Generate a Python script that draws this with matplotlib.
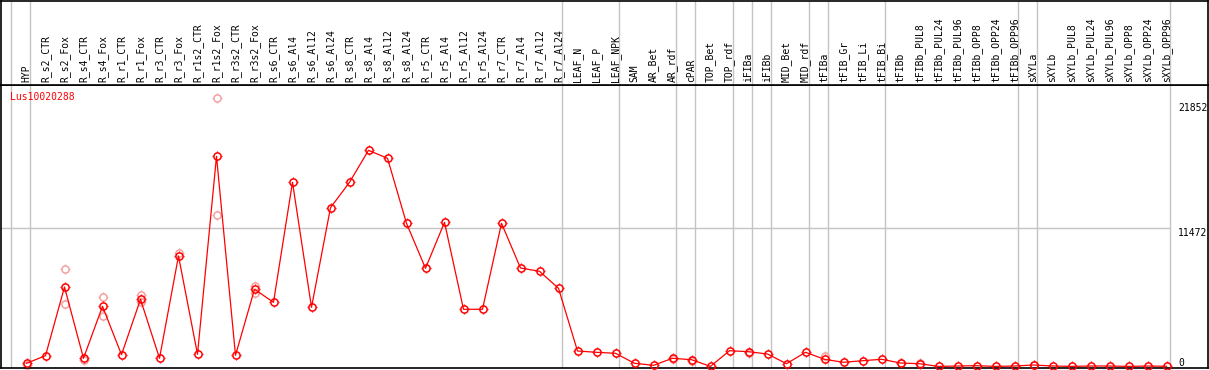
import numpy as np
import matplotlib
matplotlib.use("Agg")
import matplotlib.pyplot as plt
from matplotlib.path import Path

# column labels, left to right
samples = [
    "HYP", "R_s2_CTR", "R_s2_Fox", "R_s4_CTR", "R_s4_Fox", "R_r1_CTR", "R_r1_Fox",
    "R_r3_CTR", "R_r3_Fox", "R_r1s2_CTR", "R_r1s2_Fox", "R_r3s2_CTR", "R_r3s2_Fox",
    "R_s6_CTR", "R_s6_Al4", "R_s6_Al12", "R_s6_Al24", "R_s8_CTR", "R_s8_Al4",
    "R_s8_Al12", "R_s8_Al24", "R_r5_CTR", "R_r5_Al4", "R_r5_Al12", "R_r5_Al24",
    "R_r7_CTR", "R_r7_Al4", "R_r7_Al12", "R_r7_Al24", "LEAF_N", "LEAF_P", "LEAF_NPK",
    "SAM", "AR_Bet", "AR_rdf", "cPAR", "TOP_Bet", "TOP_rdf", "iFIBa", "iFIBb",
    "MID_Bet", "MID_rdf", "tFIBa", "tFIB_Gr", "tFIB_Li", "tFIB_Bi", "tFIBb",
    "tFIBb_PUL8", "tFIBb_PUL24", "tFIBb_PUL96", "tFIBb_OPP8", "tFIBb_OPP24",
    "tFIBb_OPP96", "sXYLa", "sXYLb", "sXYLb_PUL8", "sXYLb_PUL24", "sXYLb_PUL96",
    "sXYLb_OPP8", "sXYLb_OPP24", "sXYLb_OPP96",
]

# mean expression per sample
mean_expr = [
    257, 889, 6595, 673, 4992, 972, 5573, 673, 9169, 1005, 17450, 922, 6404, 5324,
    15291, 4909, 13181, 15291, 17948, 17284, 11885, 8148, 11968, 4743, 4743, 11885,
    8173, 7899, 6487, 1279, 1171, 1088, 257, 91, 673, 557, 0, 1304, 1221, 1030, 224,
    1171, 590, 340, 473, 590, 282, 224, 0, 33, 58, 0, 33, 116, 33, 0, 33, 33, 0, 33, 10,
]

# individual replicates (sample index, value)
rep_idx = [0, 2, 2, 3, 4, 4, 6, 6, 8, 10, 10, 12, 12, 34, 35, 38, 42, 46, 47, 53]
rep_val = [150, 8090, 5158, 560, 5790, 4186, 5905, 5374, 9393, 22268, 12550,
           6703, 6071, 620, 480, 1150, 889, 250, 250, 130]

# group boundaries (line drawn just right of these sample indices)
group_ends = [-1, 0, 28, 31, 34, 35, 37, 38, 39, 41, 42, 45, 52, 53, 60]

scale_ticks = [0, 11472, 21852]
gene = "Lus10020288"

W, H = 1209, 370
fig = plt.figure(figsize=(W / 100, H / 100), dpi=100)
mono = "DejaVu Sans Mono"
grey = "#c4c4c4"

x = np.arange(len(samples))
xlim = ((1 - 26.5) / 19, (1208 - 26.5) / 19)

ax = fig.add_axes([1 / W, (H - 368) / H, 1207 / W, 283 / H])
axh = fig.add_axes([1 / W, (H - 85) / H, 1207 / W, 84.5 / H], sharex=ax)

for a in (ax, axh):
    a.set_xlim(*xlim)
    a.set_xticks([])
    a.set_yticks([])
    for s in a.spines.values():
        s.set_linewidth(1.2)
        s.set_color("black")
    for g in group_ends:
        a.axvline(g + 0.2, color=grey, lw=1.0, zorder=0)

ax.set_ylim(-133, 23372)
axh.set_ylim(0, 1)

# column labels
for i, name in enumerate(samples):
    axh.text(i, 0.03, name, rotation=90, ha="center", va="bottom",
             fontsize=7, family=mono)

# reference line and scale labels
ax.hlines(scale_ticks[1], xlim[0], group_ends[-1] + 0.2, color=grey, lw=1.0, zorder=0)
for v in scale_ticks:
    yv = max(v, 700)
    ax.text((1178 - 26.5) / 19, yv, str(v), ha="left", va="top",
            fontsize=7, family=mono)

# small ticks around each circle marker
tick_verts = [(0.7, 0), (1, 0), (-0.7, 0), (-1, 0), (0, 0.7), (0, 1), (0, -0.7), (0, -1)]
tick_codes = [Path.MOVETO, Path.LINETO] * 4
ticks = Path(tick_verts, tick_codes)


def points(xs, ys, color, z, lw=None):
    if lw is not None:
        ax.plot(xs, ys, color=color, lw=lw, zorder=z, clip_on=False)
    ax.plot(xs, ys, ls="none", marker="o", ms=5.2, mfc="none", mec=color,
            mew=1.1, zorder=z, clip_on=False)
    ax.plot(xs, ys, ls="none", marker=ticks, ms=7.8, mec=color,
            mew=0.9, zorder=z, clip_on=False)


points(rep_idx, rep_val, "#f2a0a0", 2)
points(x, mean_expr, "red", 3, lw=0.9)

ax.text(9 / 1207, (368 - 97) / 283, gene, transform=ax.transAxes, color="red",
        ha="left", va="center", fontsize=7, family=mono)

fig.savefig("out.png", dpi=100)
